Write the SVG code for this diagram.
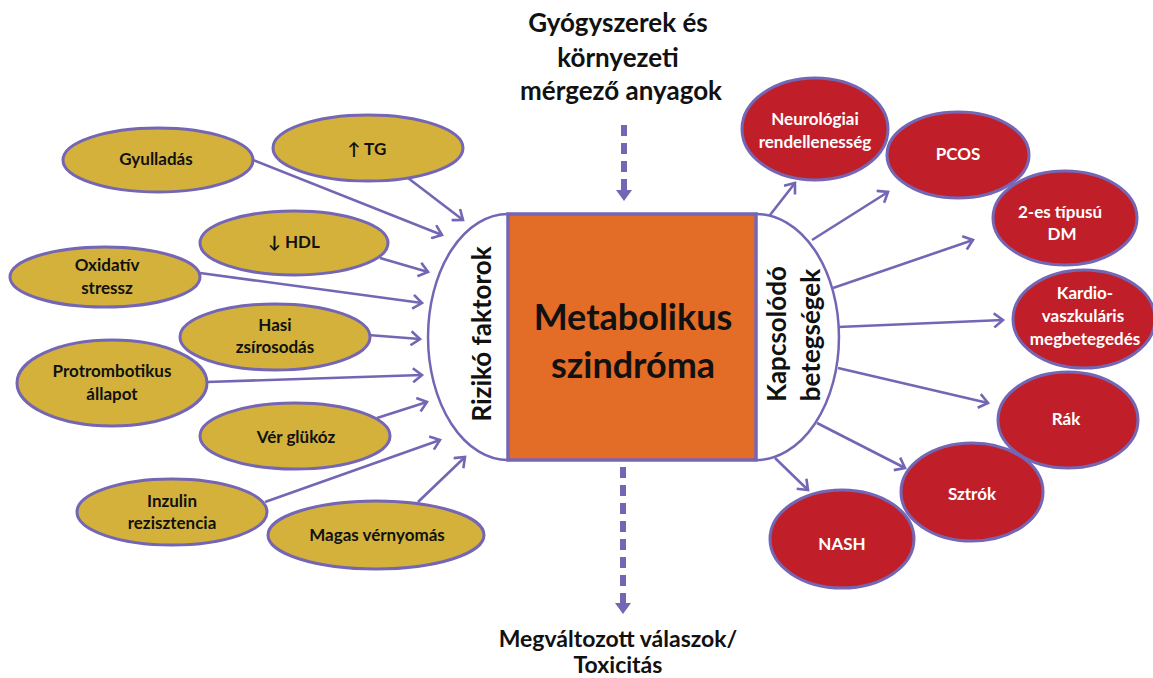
<svg xmlns="http://www.w3.org/2000/svg" width="1153" height="678" viewBox="0 0 1153 678">
<style>
.gold{fill:#D4B13A;stroke:#7466B4;stroke-width:3}
.red{fill:#C01F2A;stroke:#7466B4;stroke-width:3}
.t{font-family:Lato,"Liberation Sans","DejaVu Sans",sans-serif;font-weight:bold;text-anchor:middle}
.tb{fill:#111;font-size:17px}
.tw{fill:#fff;font-size:17px}
.big{fill:#111;font-size:26px}
.con{stroke:#7466B4;stroke-width:2.6;fill:none;marker-end:url(#ah)}
.dash{stroke:#7466B4;stroke-width:6;stroke-dasharray:11 7;fill:none}
</style>
<defs>
<marker id="ah" markerUnits="userSpaceOnUse" markerWidth="16" markerHeight="16" refX="12" refY="8" orient="auto">
<path d="M3,1 L12,8 L3,15" fill="none" stroke="#7466B4" stroke-width="2.6"/>
</marker>
</defs>
<rect width="1153" height="678" fill="#fff"/>

<g id="connectors">
<line class="con" x1="253" y1="160" x2="442" y2="235"/>
<line class="con" x1="408" y1="178" x2="463" y2="220"/>
<line class="con" x1="380" y1="258" x2="428" y2="272"/>
<line class="con" x1="200" y1="273" x2="422" y2="303"/>
<line class="con" x1="368" y1="335" x2="420" y2="339"/>
<line class="con" x1="207" y1="382" x2="422" y2="375"/>
<line class="con" x1="377" y1="418" x2="427" y2="402"/>
<line class="con" x1="265" y1="502" x2="440" y2="440"/>
<line class="con" x1="418" y1="502" x2="465" y2="457"/>
<line class="con" x1="770" y1="215" x2="795" y2="183"/>
<line class="con" x1="812" y1="240" x2="888" y2="192"/>
<line class="con" x1="833" y1="288" x2="973" y2="240"/>
<line class="con" x1="838" y1="327" x2="1003" y2="320"/>
<line class="con" x1="838" y1="368" x2="988" y2="403"/>
<line class="con" x1="817" y1="423" x2="905" y2="468"/>
<line class="con" x1="775" y1="458" x2="808" y2="490"/>
<line class="dash" x1="624" y1="125" x2="624" y2="190"/>
<polygon points="616,190 632,190 624,201" fill="#7466B4"/>
<line class="dash" x1="623" y1="467" x2="623" y2="604"/>
<polygon points="615,603 631,603 623,614" fill="#7466B4"/>
</g>

<g id="center">
<path d="M508,214 A80,123 0 0 0 508,460" fill="#fff" stroke="#7466B4" stroke-width="2.5"/>
<path d="M756,214 A83,123 0 0 1 756,460" fill="#fff" stroke="#7466B4" stroke-width="2.5"/>
<rect x="508" y="214" width="248" height="246" fill="#E36C26" stroke="#7466B4" stroke-width="3.5"/>
<text class="t" style="font-size:36px" fill="#111" x="633" y="330">Metabolikus</text>
<text class="t" style="font-size:36px" fill="#111" x="633" y="378">szindróma</text>
<text class="t big" transform="translate(491,334) rotate(-90)">Rizikó faktorok</text>
<text class="t big" transform="translate(786,334) rotate(-90)">Kapcsolódó</text>
<text class="t big" transform="translate(820,335) rotate(-90)">betegségek</text>
</g>

<g id="top-label">
<text class="t" style="font-size:26px" fill="#111" x="618" y="32">Gyógyszerek és</text>
<text class="t" style="font-size:26px" fill="#111" x="618" y="67">környezeti</text>
<text class="t" style="font-size:26px" fill="#111" x="621" y="100">mérgező anyagok</text>
</g>
<g id="bottom-label">
<text class="t" style="font-size:23px" fill="#111" x="618" y="647">Megváltozott válaszok/</text>
<text class="t" style="font-size:23px" fill="#111" x="618" y="673">Toxicitás</text>
</g>

<g id="gyulladas"><ellipse class="gold" cx="158" cy="160" rx="95" ry="32"/><text class="t tb" x="156" y="165">Gyulladás</text></g>
<g id="tg"><ellipse class="gold" cx="368" cy="148" rx="95" ry="33"/><text class="t tb" x="367" y="155">↑ TG</text></g>
<g id="hdl"><ellipse class="gold" cx="294" cy="243" rx="94" ry="32"/><text class="t tb" x="294" y="248">↓ HDL</text></g>
<g id="oxidativ"><ellipse class="gold" cx="105" cy="277" rx="95" ry="30"/><text class="t tb" x="107" y="271">Oxidatív</text><text class="t tb" x="107" y="294">stressz</text></g>
<g id="hasi"><ellipse class="gold" cx="275" cy="337" rx="95" ry="33"/><text class="t tb" x="275" y="331">Hasi</text><text class="t tb" x="275" y="353">zsírosodás</text></g>
<g id="protrombotikus"><ellipse class="gold" cx="112" cy="383" rx="95" ry="43"/><text class="t tb" x="112" y="377">Protrombotikus</text><text class="t tb" x="112" y="400">állapot</text></g>
<g id="ver-glukoz"><ellipse class="gold" cx="295" cy="436" rx="95" ry="33"/><text class="t tb" x="296" y="443">Vér glükóz</text></g>
<g id="inzulin"><ellipse class="gold" cx="172" cy="512" rx="95" ry="33"/><text class="t tb" x="172" y="507">Inzulin</text><text class="t tb" x="172" y="529">rezisztencia</text></g>
<g id="magas"><ellipse class="gold" cx="376" cy="535" rx="108" ry="34"/><text class="t tb" x="377" y="541">Magas vérnyomás</text></g>

<g id="neuro"><ellipse class="red" cx="815" cy="129" rx="73" ry="51"/><text class="t tw" x="815" y="125">Neurológiai</text><text class="t tw" x="815" y="148">rendellenesség</text></g>
<g id="pcos"><ellipse class="red" cx="958" cy="155" rx="71" ry="43"/><text class="t tw" x="958" y="160">PCOS</text></g>
<g id="dm"><ellipse class="red" cx="1065" cy="218" rx="72" ry="47"/><text class="t tw" x="1060" y="218">2-es típusú</text><text class="t tw" x="1062" y="240">DM</text></g>
<g id="kardio"><ellipse class="red" cx="1084" cy="319" rx="71" ry="49"/><text class="t tw" x="1085" y="299">Kardio-</text><text class="t tw" x="1083" y="322">vaszkuláris</text><text class="t tw" x="1085" y="345">megbetegedés</text></g>
<g id="rak"><ellipse class="red" cx="1068" cy="420" rx="70" ry="48"/><text class="t tw" x="1066" y="425">Rák</text></g>
<g id="sztrok"><ellipse class="red" cx="972" cy="492" rx="71" ry="49"/><text class="t tw" x="972" y="500">Sztrók</text></g>
<g id="nash"><ellipse class="red" cx="842" cy="539" rx="72" ry="49"/><text class="t tw" x="842" y="550">NASH</text></g>
</svg>
